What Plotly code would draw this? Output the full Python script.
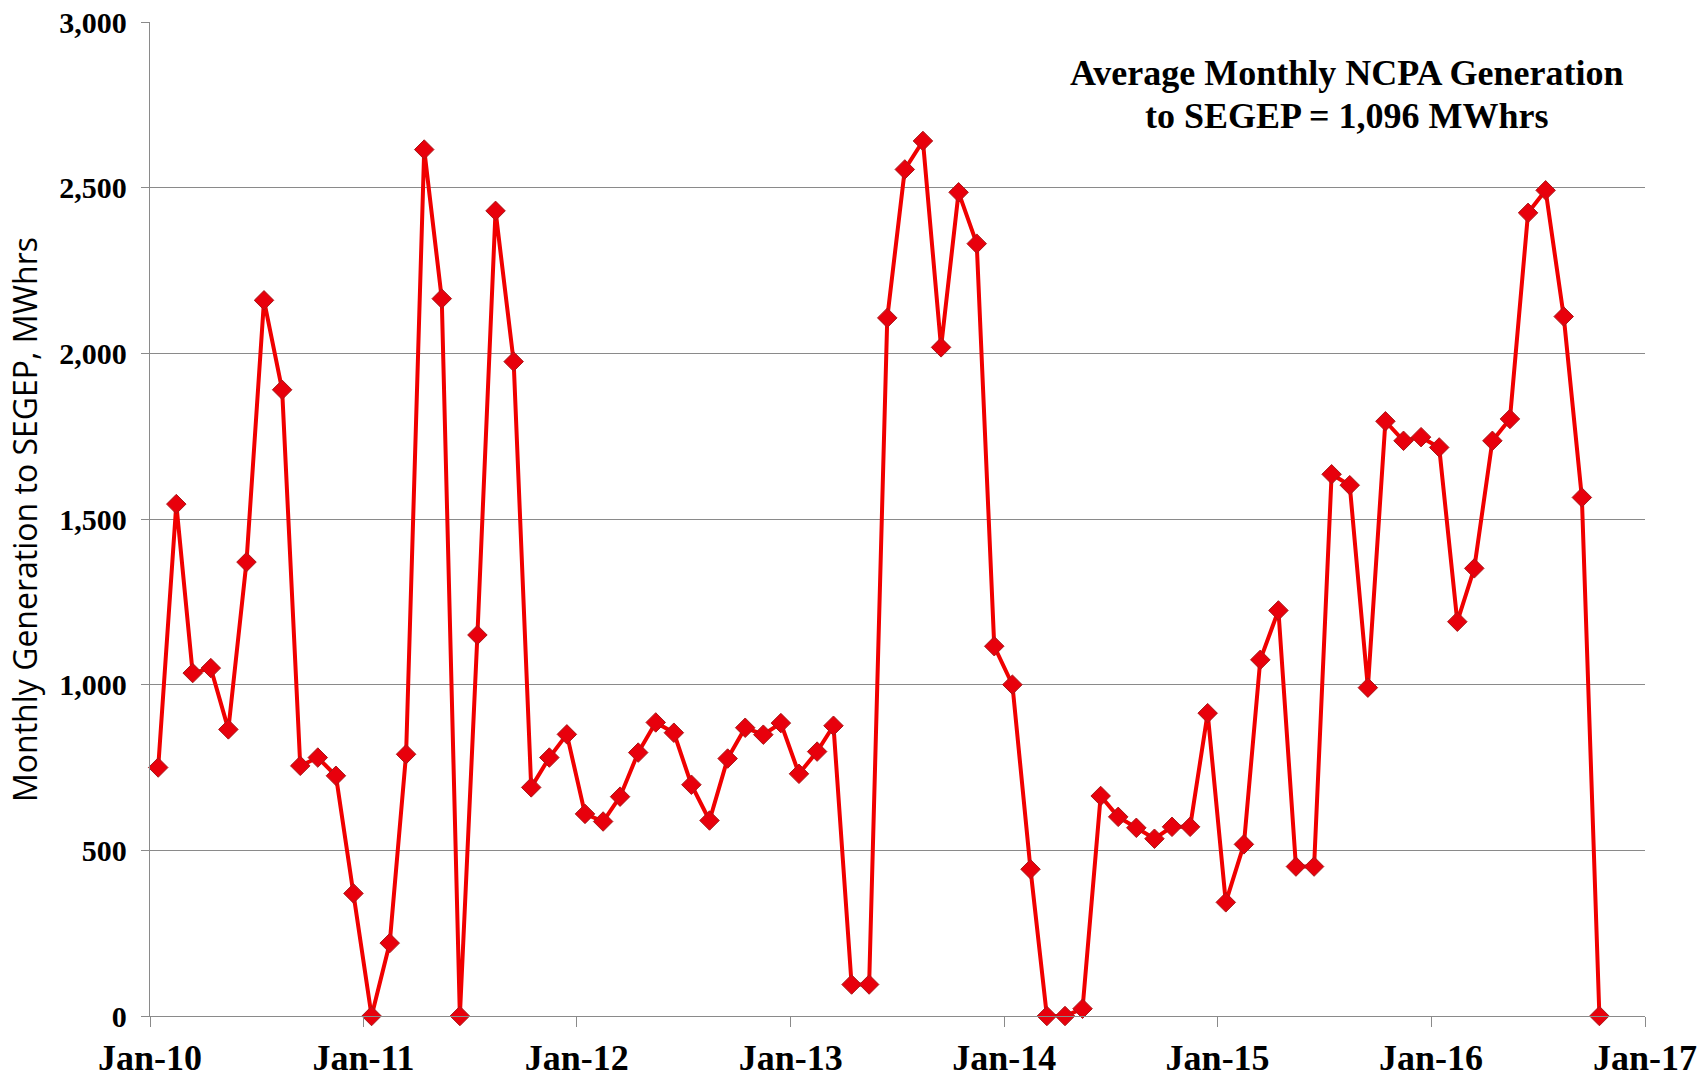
import pandas as pd
import plotly.graph_objects as go

# Monthly NCPA generation to SEGEP (MWhrs), Jan 2010 - Oct 2016
gen_2010 = [750, 1545, 1035, 1050, 865, 1370, 2160, 1890, 755, 780, 725, 370]
gen_2011 = [0, 220, 790, 2615, 2165, 0, 1150, 2430, 1975, 690, 780, 850]
gen_2012 = [610, 587, 662, 795, 886, 855, 698, 590, 777, 870, 849, 884]
gen_2013 = [731, 798, 876, 95, 95, 2107, 2555, 2641, 2018, 2486, 2331, 1116]
gen_2014 = [1000, 443, 0, 0, 22, 664, 601, 568, 535, 571, 571, 914]
gen_2015 = [343, 518, 1075, 1224, 451, 451, 1635, 1602, 991, 1795, 1736, 1747]
gen_2016 = [1716, 1190, 1351, 1736, 1802, 2424, 2492, 2111, 1565, 0]

values = gen_2010 + gen_2011 + gen_2012 + gen_2013 + gen_2014 + gen_2015 + gen_2016
# one point per month, plotted mid-month
months = pd.date_range("2010-01-01", periods=len(values), freq="MS") + pd.Timedelta(days=14)

tick_dates = ["2010-01-01", "2011-01-01", "2012-01-01", "2013-01-01",
              "2014-01-01", "2015-01-01", "2016-01-01", "2017-01-01"]
tick_labels = ["Jan-10", "Jan-11", "Jan-12", "Jan-13", "Jan-14", "Jan-15", "Jan-16", "Jan-17"]
y_ticks = [0, 500, 1000, 1500, 2000, 2500, 3000]

annotation_line1 = "Average Monthly NCPA Generation"
annotation_line2 = "to SEGEP = 1,096 MWhrs"
y_title = "Monthly Generation to SEGEP, MWhrs"

serif = "Liberation Serif, Times New Roman, serif"
grid = "#8a8a8a"

fig = go.Figure()
fig.add_trace(go.Scatter(
    x=months, y=values, mode="lines+markers",
    line=dict(color="#f00000", width=4),
    marker=dict(symbol="diamond", size=15, color="#e8000c",
                line=dict(color="#a8181a", width=1)),
    cliponaxis=False, showlegend=False,
))

ann_font = dict(family=serif, size=36, color="black", weight="bold")

fig.update_layout(
    width=1707, height=1077,
    margin=dict(l=150, r=62, t=22, b=61, autoexpand=False),
    paper_bgcolor="white", plot_bgcolor="white",
    xaxis=dict(
        range=["2010-01-01", "2017-01-01"],
        tickmode="array", tickvals=tick_dates, ticktext=tick_labels,
        ticks="outside", ticklen=10, tickcolor=grid, tickwidth=1.3,
        showgrid=False, showline=True, linecolor=grid, linewidth=1.3,
        tickfont=dict(family=serif, size=36, color="black", weight="bold"),
        zeroline=False, automargin=False,
    ),
    yaxis=dict(
        range=[0, 3000], tickmode="array", tickvals=y_ticks,
        tickformat=",", ticks="outside", ticklen=8, tickcolor=grid, tickwidth=1.3,
        showgrid=True, gridcolor=grid, gridwidth=1.3,
        showline=True, linecolor=grid, linewidth=1.3,
        tickfont=dict(family=serif, size=30, color="black", weight="bold"),
        zeroline=False, ticklabelstandoff=8, automargin=False,
    ),
    annotations=[
        dict(text=annotation_line1, xref="paper", yref="paper",
             x=0.8007, y=0.949, xanchor="center", yanchor="middle",
             showarrow=False, font=ann_font),
        dict(text=annotation_line2, xref="paper", yref="paper",
             x=0.8007, y=0.905, xanchor="center", yanchor="middle",
             showarrow=False, font=ann_font),
        dict(text=y_title, xref="paper", yref="paper",
             x=-0.0843, y=0.5, xanchor="center", yanchor="middle",
             textangle=-90, showarrow=False,
             font=dict(family="Open Sans, sans-serif", size=32, color="black")),
    ],
)

fig.write_html("out.html", config={"displayModeBar": False},
               post_script="document.body.style.margin='0px';")
